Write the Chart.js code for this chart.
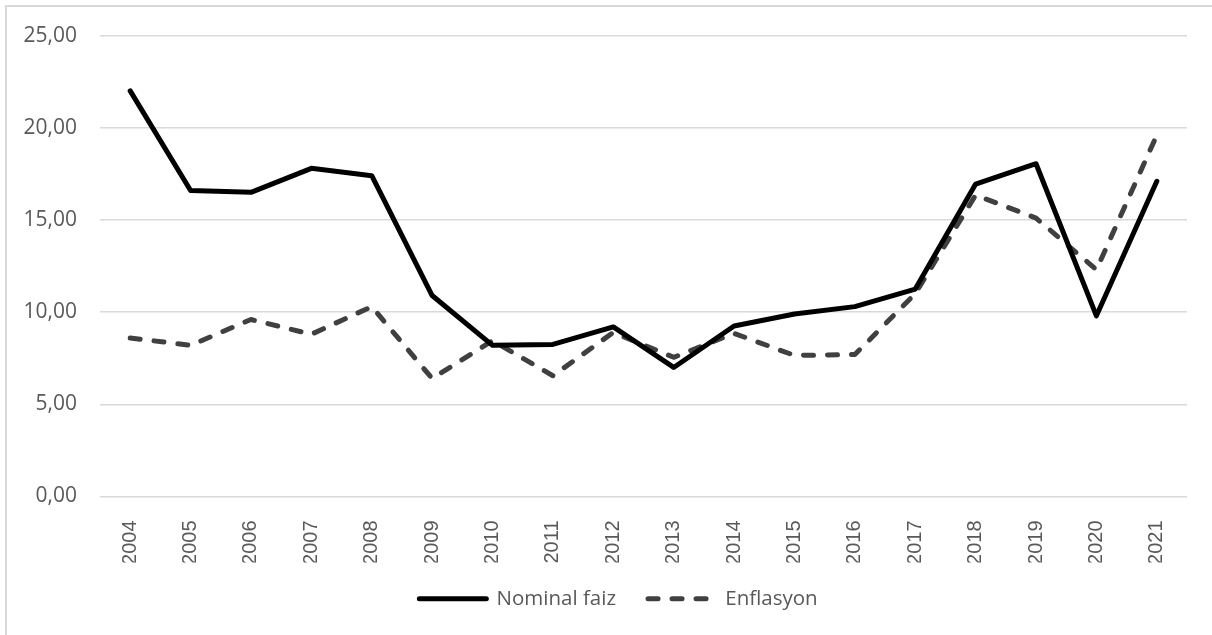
<!DOCTYPE html>
<html>
<head>
<meta charset="utf-8">
<script src="https://cdn.jsdelivr.net/npm/chart.js@4"></script>
<style>
  html, body { margin: 0; padding: 0; background: #ffffff; overflow: hidden; }
  #frame {
    position: absolute; left: 5px; top: 5px; width: 1400px; height: 800px;
    border: 2px solid #d9d9d9; box-sizing: border-box;
  }
  #wrap { position: absolute; left: 0; top: 0; width: 1212px; height: 635px; }
</style>
</head>
<body>
<div id="frame"></div>
<div id="wrap"><canvas id="chart"></canvas></div>
<script>
// Years on the category axis
const years = ['2004','2005','2006','2007','2008','2009','2010','2011','2012',
               '2013','2014','2015','2016','2017','2018','2019','2020','2021'];

// Nominal interest rate (%)
const nominalFaiz = [22.0, 16.6, 16.5, 17.8, 17.4, 10.9, 8.2, 8.25, 9.2,
                     7.0, 9.25, 9.9, 10.3, 11.25, 16.95, 18.05, 9.8, 17.1];

// Inflation (%)
const enflasyon = [8.6, 8.2, 9.6, 8.8, 10.3, 6.4, 8.45, 6.55, 8.9,
                   7.55, 8.85, 7.65, 7.7, 11.0, 16.35, 15.1, 12.3, 19.6];

// Y axis range and step
const yMin = 0, yMax = 25, yStep = 5;

const labelColor = '#595959';
const gridColor = '#d9d9d9';

// Legend entries keep each series' own dash pattern and round caps
function legendLabels(chart) {
  const items = Chart.defaults.plugins.legend.labels.generateLabels(chart);
  return items.map((item) => {
    const ds = chart.data.datasets[item.datasetIndex];
    item.lineDash = ds.borderDash || [];
    item.lineCap = 'round';
    item.strokeStyle = ds.borderColor;
    item.lineWidth = ds.borderWidth;
    item.fontColor = labelColor;
    return item;
  });
}

// Nudges the legend block so it sits centred under the whole frame
const legendOffset = {
  id: 'legendOffset',
  afterLayout(chart) {
    const lg = chart.legend;
    if (!lg) return;
    lg.left += 15; lg.right += 15;
    lg.top -= 6; lg.bottom -= 6;
  }
};

new Chart(document.getElementById('chart'), {
  type: 'line',
  data: {
    labels: years,
    datasets: [
      {
        label: 'Nominal faiz',
        data: nominalFaiz,
        borderColor: '#000000',
        backgroundColor: '#000000',
        borderWidth: 5,
        borderJoinStyle: 'round',
        borderCapStyle: 'round',
        pointRadius: 0,
        tension: 0
      },
      {
        label: 'Enflasyon',
        data: enflasyon,
        borderColor: '#404040',
        backgroundColor: '#404040',
        borderWidth: 5,
        borderDash: [10, 14],
        borderJoinStyle: 'round',
        borderCapStyle: 'round',
        pointRadius: 0,
        tension: 0
      }
    ]
  },
  plugins: [legendOffset],
  options: {
    responsive: true,
    maintainAspectRatio: false,
    animation: false,
    layout: { padding: { top: 29, right: 25, bottom: 10, left: 20 } },
    plugins: {
      tooltip: { enabled: false },
      legend: {
        position: 'bottom',
        labels: {
          usePointStyle: true,
          pointStyle: 'line',
          pointStyleWidth: 67,
          padding: 32,
          color: labelColor,
          font: { family: "'Open Sans'", size: 20.5 },
          generateLabels: legendLabels
        }
      }
    },
    scales: {
      x: {
        offset: true,
        grid: { display: false },
        border: { display: false },
        ticks: {
          color: labelColor,
          font: { family: "'Liberation Sans'", size: 20 },
          minRotation: 90,
          maxRotation: 90,
          padding: 16
        },
        afterFit: (scale) => { scale.height = 66; }
      },
      y: {
        min: yMin,
        max: yMax,
        grid: { color: gridColor, lineWidth: 1.5, drawTicks: false },
        border: { display: false },
        ticks: {
          stepSize: yStep,
          color: labelColor,
          padding: 23,
          font: { family: "'Open Sans'", size: 21 },
          callback: (v) => v.toFixed(2).replace('.', ',')
        },
        afterFit: (scale) => { scale.width = 80; }
      }
    }
  }
});
</script>
</body>
</html>
